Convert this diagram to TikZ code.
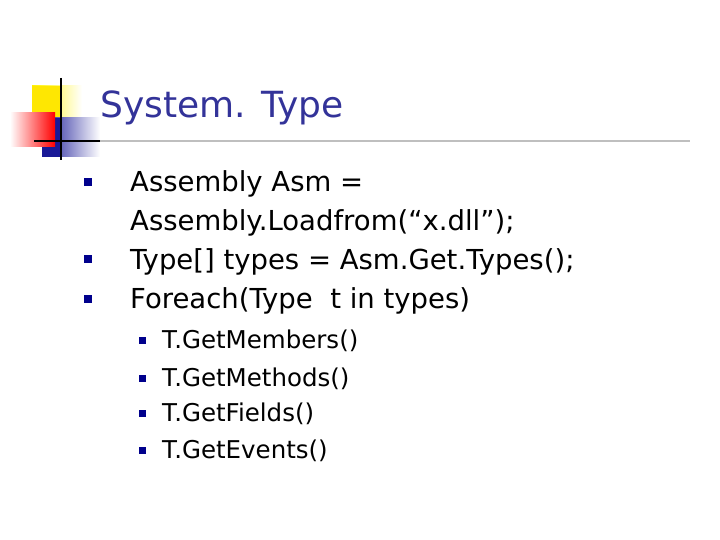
\documentclass[tikz,border=0pt]{standalone}
\usepackage{fontspec}
\setmainfont{DejaVu Sans}
\begin{document}
\begin{tikzpicture}[x=1pt,y=-1pt,
  bul/.style={fill=navy,minimum size=8pt,inner sep=0pt},
  sbul/.style={fill=navy,minimum size=7pt,inner sep=0pt},
  txt/.style={anchor=base west,inner sep=0pt,font=\fontsize{27.5}{30}\selectfont},
  stxt/.style={anchor=base west,inner sep=0pt,font=\fontsize{24.5}{28}\selectfont}]
\definecolor{navy}{RGB}{0,0,140}
\definecolor{ttl}{RGB}{51,51,153}
\useasboundingbox (0,0) rectangle (720,540);
\fill[white] (0,0) rectangle (720,540);
% logo
\shade[left color=yellow!90!orange,right color=white] (32,86) rectangle (82,130);
\fill[yellow!90!orange] (32,86) rectangle (60,130);
\shade[left color=navy!90,right color=white] (42,118) rectangle (100,157);
\fill[navy!90] (42,118) rectangle (62,157);
\shade[left color=white,right color=red] (10,113) rectangle (55,147);
\draw[line width=2.5pt] (61,78) -- (61,160);
\draw[line width=2pt] (34,141) -- (100,141);
\draw[gray!50,line width=1.5pt] (100,141) -- (690,141);
\node[anchor=base west,inner sep=0pt,text=ttl,font=\fontsize{36}{40}\selectfont] (title) at (100,118) {System. Type};
% bullets
\node[bul] (b1) at (88,182) {};
\node[bul] (b2) at (88,259) {};
\node[bul] (b3) at (88,299) {};
\node[txt] (t1) at (130,192) {Assembly Asm =};
\node[txt] (t1b) at (130,230) {Assembly.Loadfrom(“x.dll”);};
\node[txt] (t2) at (130,269) {Type[] types = Asm.Get.Types();};
\node[txt] (t3) at (130,308) {Foreach(Type\ \ t in types)};
\node[sbul] (s1) at (142,340) {};
\node[sbul] (s2) at (142,378) {};
\node[sbul] (s3) at (142,413) {};
\node[sbul] (s4) at (142,450) {};
\node[stxt] (u1) at (162,348) {T.GetMembers()};
\node[stxt] (u2) at (162,386) {T.GetMethods()};
\node[stxt] (u3) at (162,421) {T.GetFields()};
\node[stxt] (u4) at (162,458) {T.GetEvents()};
\end{tikzpicture}
\end{document}
